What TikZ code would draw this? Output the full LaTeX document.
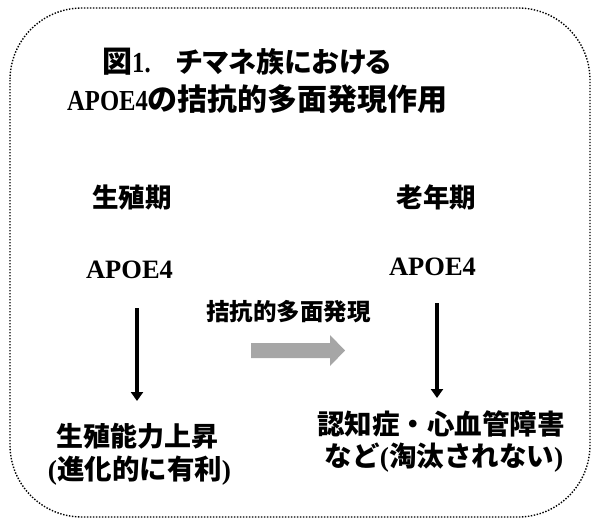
\documentclass[tikz,border=0pt]{standalone}
\usepackage{fontspec}
\setmainfont{Liberation Serif}
\newfontfamily\latn{Liberation Serif}[FakeStretch=0.85]
\newfontfamily\jpf{Noto Sans CJK JP}
\newfontfamily\jpp[RawFeature=+palt]{Noto Sans CJK JP}
\usetikzlibrary{arrows.meta}
\newcommand\jpb{\jpf\bfseries}
\newcommand\latb{\rmfamily\bfseries}
\begin{document}
\begin{tikzpicture}[x=1pt,y=-1pt,
  txt/.style={inner sep=0pt, anchor=base},
  frame/.style={line width=1.4pt, dash pattern=on 1.4pt off 1.6pt, rounded corners=72pt},
  blackarrow/.style={line width=3.5pt, -{Triangle[width=12pt,length=9pt]}},
  grayarrow/.style={fill=black!35, draw=none}]
\useasboundingbox (0,0) rectangle (600,523);
\draw[frame] (10,8) rectangle (590,517);
% title
\node[txt, anchor=base west] (t1) at (102,72.5) {{\fontsize{30}{34}\selectfont\jpb 図}{\fontsize{29}{34}\selectfont\latn\bfseries 1.}\hspace{26pt}{\fontsize{28}{34}\selectfont\jpp\bfseries チマネ族における}};
\node[txt, anchor=base west] (t2) at (67,110.5) {{\fontsize{29}{34}\selectfont\latn\bfseries APOE4}{\fontsize{30}{34}\selectfont\jpb の拮抗的多面発現作用}};
% headings
\node[txt] (hL) at (132,207.6) {\fontsize{26.5}{30}\selectfont\jpb 生殖期};
\node[txt] (hR) at (436.5,207.6) {\fontsize{26.5}{30}\selectfont\jpb 老年期};
\node[txt] (apoeL) at (129.5,278.7) {\fontsize{26.5}{30}\selectfont\latb APOE4};
\node[txt] (apoeR) at (432.5,275.8) {\fontsize{26.5}{30}\selectfont\latb APOE4};
\node[txt] (anta) at (288.5,320.6) {\fontsize{23.5}{28}\selectfont\jpb 拮抗的多面発現};
% results
\node[txt] (rL1) at (137.5,446.7) {\fontsize{27}{30}\selectfont\jpb 生殖能力上昇};
\node[txt] (rL2) at (139.5,479.7) {\fontsize{27.5}{30}\selectfont{\latb (}{\jpb 進化的に有利}{\latb )}};
\node[txt] (rR1) at (441,434.9) {\fontsize{27.5}{30}\selectfont\jpb 認知症・心血管障害};
\node[txt] (rR2) at (444,466.9) {\fontsize{27.5}{30}\selectfont{\jpb など}{\latb (}{\jpb 淘汰されない}{\latb )}};
% arrows
\coordinate (aL1) at (137,308);
\coordinate (aL2) at (137,401);
\coordinate (aR1) at (437,303);
\coordinate (aR2) at (437,398);
\draw[blackarrow] (aL1) -- (aL2);
\draw[blackarrow] (aR1) -- (aR2);
\fill[grayarrow] (251,343) -- (330,343) -- (330,335) -- (345,350.5) -- (330,366) -- (330,358) -- (251,358) -- cycle;
\end{tikzpicture}
\end{document}
